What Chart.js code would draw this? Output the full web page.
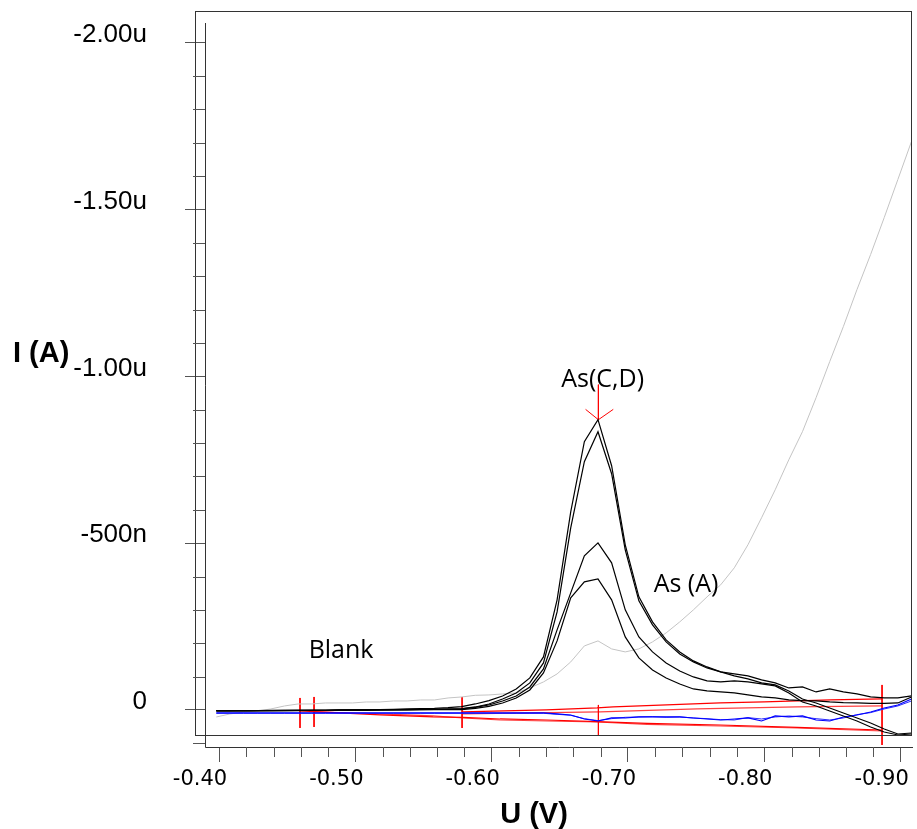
<!DOCTYPE html>
<html>
<head>
<meta charset="utf-8">
<script src="https://cdn.jsdelivr.net/npm/chart.js@4.4.0/dist/chart.umd.min.js"></script>
<style>
  html, body { margin: 0; padding: 0; background: #fff; }
  #wrap { width: 917px; height: 829px; }
</style>
</head>
<body>
<div id="wrap"><canvas id="chart"></canvas></div>
<script>
// potential of every recorded point (V)
const potentials = [
  -0.398, -0.408, -0.418, -0.428, -0.438, -0.448, -0.458, -0.468, -0.478, -0.488,
  -0.498, -0.508, -0.518, -0.528, -0.538, -0.548, -0.558, -0.568, -0.578, -0.588,
  -0.598, -0.608, -0.618, -0.628, -0.638, -0.648, -0.658, -0.668, -0.678, -0.688,
  -0.698, -0.708, -0.718, -0.728, -0.738, -0.748, -0.758, -0.768, -0.778, -0.788,
  -0.798, -0.808, -0.818, -0.828, -0.838, -0.848, -0.858, -0.868, -0.878, -0.888,
  -0.898, -0.908
];

// currents in nA (negative = up)
const sampleC1 = [3, 3, 2, 2, 2, 2, 1, 1, 1, 0, 0, 0, -1, -2, -3,
  -4, -5, -7, -10, -18, -28, -42, -63, -96, -159,
  -330, -594, -804, -870, -732, -495, -339, -264, -210, -174,
  -147, -129, -114, -102, -93, -81, -75, -57, -33, -21,
  -6, 9, 24, 39, 57, 72, 69];
const sampleC2 = [2, 2, 2, 2, 2, 1, 1, 1, 1, 0, 0, 0, 0, -1, -1,
  -2, -2, -3, -4, -9, -18, -33, -51, -81, -141,
  -294, -546, -744, -834, -708, -480, -327, -255, -204, -168,
  -144, -126, -114, -108, -102, -90, -81, -66, -69, -54,
  -63, -54, -48, -39, -36, -36, -42];
const sampleA1 = [2, 2, 2, 2, 1, 1, 1, 1, 1, 1, 0, 0, 0, 0, -1,
  -1, -2, -2, -3, -8, -15, -27, -42, -69, -123,
  -240, -351, -462, -501, -441, -300, -219, -174, -141, -117,
  -99, -87, -84, -87, -84, -78, -72, -51, -24, -12,
  3, 18, 33, 51, 66, 75, 72];
const sampleA2 = [3, 3, 3, 2, 2, 2, 2, 1, 1, 1, 1, 1, 0, 0, 0,
  -1, -1, -1, -1, -5, -11, -21, -36, -60, -111,
  -207, -336, -384, -393, -330, -219, -156, -120, -96, -78,
  -63, -57, -54, -51, -45, -39, -36, -30, -28, -27,
  -24, -22, -21, -20, -20, -21, -39];
const background = [21, 12, 6, 3, -3, -12, -18, -18, -21, -21, -21, -24, -24, -27, -27,
  -30, -30, -36, -39, -44, -45, -48, -51, -66, -84,
  -108, -144, -192, -207, -183, -174, -183, -204, -231, -264,
  -300, -339, -375, -426, -495, -576, -660, -750, -834, -936,
  -1044, -1149, -1260, -1365, -1476, -1590, -1704];
const blank1 = [9, 9, 9, 9, 9, 9, 9, 9, 9, 9, 9, 9, 9, 9, 9, 9, 9, 9, 9, 9, 9, 9, 9, 9, 9,
  12, 15, 27, 33, 24, 24, 21, 21, 21, 21,
  24, 27, 30, 27, 24, 33, 18, 21, 18, 30,
  33, 21, 15, 6, -6, -15, -33];
const blank2 = [10, 10, 10, 10, 10, 10, 10, 10, 10, 10, 10, 10, 10, 10, 10, 10, 10, 10, 10, 10, 10, 10, 10, 10, 10,
  13, 16, 26, 32, 26, 22, 21, 20, 22, 21,
  24, 26, 29, 30, 23, 27, 21, 18, 21, 26,
  30, 24, 14, 8, -3, -12, -27];

// baselines (red)
const base1U = [-0.5783, -0.6399, -0.6773, -0.6891, -0.7676, -0.7999, -0.8484, -0.8864];
const base1I = [6, 0, -6, -9, -21, -24, -30, -33];
const base2U = [-0.5783, -0.6795, -0.7507, -0.8241, -0.8864];
const base2I = [12, 6, -3, -9, -12];
const base3U = [-0.4594, -0.5181, -0.5570, -0.5790, -0.6062, -0.6406, -0.6773, -0.7140, -0.7676, -0.8241, -0.8864];
const base3I = [3, 15, 21, 22, 27, 30, 35, 40, 45, 52, 60];
const base4U = [-0.4697, -0.5181, -0.5570, -0.5790, -0.6062, -0.6406, -0.6773, -0.7140, -0.7676, -0.8241, -0.8864];
const base4I = [6, 12, 18, 24, 30, 33, 36, 43, 48, 54, 63];

// baseline limit markers and peak marker
const markerU = [-0.4594, -0.4697, -0.5783, -0.6783, -0.8864];
const markerTop = [-36, -39, -39, -15, -75];
const markerBottom = [54, 51, 54, 75, 105];
const arrowU = [-0.6689, -0.6783, -0.6892];
const arrowI = [-901, -870, -901];
const arrowShaftI = [-975, -870];

// text labels inside the plot
const noteTexts = ['As(C,D)', 'As (A)', 'Blank'];
const noteU = [-0.6814, -0.7426, -0.4895];
const noteI = [-989, -375, -177];

// ticks
const majorI = [-2000, -1500, -1000, -500, 0];
const minorU = [-0.42, -0.44, -0.46, -0.48, -0.52, -0.54, -0.56, -0.58, -0.62, -0.64,
  -0.66, -0.68, -0.72, -0.74, -0.76, -0.78, -0.82, -0.84, -0.86, -0.88];
const minorI = [-1900, -1800, -1700, -1600, -1400, -1300, -1200, -1100, -900, -800,
  -700, -600, -400, -300, -200, -100, 100];

function pts(us, is) {
    return us.map((u, i) => ({ x: u, y: is[i] }));
}

function curve(values, color, width) {
    return { data: pts(potentials, values), borderColor: color, borderWidth: width };
}

function fmtCurrent(v) {
    if (v === 0) return '0';
    if (Math.abs(v) < 1000) return v + 'n';
    return (v / 1000).toFixed(2) + 'u';
}

const RED = '#ff0000';

const datasets = [
    curve(sampleC1, '#000000', 1.2),
    curve(sampleC2, '#000000', 1.2),
    curve(sampleA1, '#000000', 1.2),
    curve(sampleA2, '#000000', 1.2),
    curve(blank1, '#0000ff', 1.2),
    curve(blank2, '#2a2aff', 1),
    { data: pts(base1U, base1I), borderColor: RED, borderWidth: 1.2 },
    { data: pts(base2U, base2I), borderColor: 'rgba(255,0,0,0.75)', borderWidth: 1.2 },
    { data: pts(base3U, base3I), borderColor: RED, borderWidth: 1.2 },
    { data: pts(base4U, base4I), borderColor: 'rgba(255,0,0,0.75)', borderWidth: 1.2 },
    curve(background, '#c4c4c4', 1)
];

markerU.forEach((u, i) => {
    datasets.push({ data: pts([u, u], [markerTop[i], markerBottom[i]]), borderColor: RED, borderWidth: 1 });
});
datasets.push({ data: pts(arrowU, arrowI), borderColor: RED, borderWidth: 1 });
datasets.push({ data: pts([arrowU[1], arrowU[1]], arrowShaftI), borderColor: RED, borderWidth: 1 });

const decorations = {
    id: 'decorations',
    afterDraw(chart) {
        const { ctx, chartArea: a, scales: { x, y } } = chart;
        ctx.save();
        ctx.lineWidth = 1;
        ctx.strokeStyle = '#333';
        // outer frame and inner axis lines
        ctx.strokeRect(a.left - 9.5, a.top + 0.5, a.right - a.left + 8, a.bottom - a.top - 12);
        ctx.beginPath();
        ctx.moveTo(a.left + 0.5, a.top + 12);
        ctx.lineTo(a.left + 0.5, a.bottom + 0.5);
        ctx.lineTo(a.right, a.bottom + 0.5);
        ctx.stroke();

        // minor ticks
        ctx.strokeStyle = '#555';
        ctx.beginPath();
        minorI.forEach(v => {
            const p = Math.round(y.getPixelForValue(v)) + 0.5;
            ctx.moveTo(a.left - 12, p);
            ctx.lineTo(a.left, p);
        });
        minorU.forEach(v => {
            const p = Math.round(x.getPixelForValue(v)) + 0.5;
            ctx.moveTo(p, a.bottom);
            ctx.lineTo(p, a.bottom + 10);
        });
        ctx.stroke();

        // notes
        ctx.fillStyle = '#000';
        ctx.font = '25px "Open Sans"';
        ctx.textAlign = 'center';
        ctx.textBaseline = 'middle';
        noteTexts.forEach((t, i) => {
            ctx.fillText(t, x.getPixelForValue(noteU[i]), y.getPixelForValue(noteI[i]));
        });

        // axis titles
        ctx.font = 'bold 29px "Liberation Sans"';
        ctx.textBaseline = 'alphabetic';
        ctx.textAlign = 'left';
        ctx.fillText('I (A)', 13, 362);
        ctx.textAlign = 'center';
        ctx.fillText('U (V)', 534, 823);
        ctx.restore();
    }
};

new Chart(document.getElementById('chart'), {
    type: 'line',
    data: { datasets: datasets },
    options: {
        responsive: true,
        maintainAspectRatio: false,
        devicePixelRatio: 1,
        animation: false,
        events: [],
        layout: { padding: { top: 11, right: 4, left: 0, bottom: 0 } },
        elements: {
            point: { radius: 0 },
            line: { tension: 0, fill: false }
        },
        plugins: {
            legend: { display: false },
            tooltip: { enabled: false }
        },
        scales: {
            x: {
                type: 'linear',
                reverse: true,
                min: -0.9091,
                max: -0.3897,
                border: { display: false },
                grid: { drawOnChartArea: false, tickLength: 15, tickColor: '#555' },
                ticks: {
                    stepSize: 0.1,
                    includeBounds: false,
                    maxRotation: 0,
                    autoSkip: false,
                    labelOffset: -19,
                    padding: 5,
                    color: '#000',
                    font: { family: 'DejaVu Sans', size: 21 },
                    callback: v => v.toFixed(2)
                },
                afterFit(s) {
                    s.height = 82;
                    s.paddingLeft = 0;
                    s.paddingRight = 0;
                }
            },
            y: {
                type: 'linear',
                reverse: true,
                min: -2095,
                max: 111,
                border: { display: false },
                grid: { drawOnChartArea: false, tickLength: 20, tickColor: '#555' },
                ticks: {
                    autoSkip: false,
                    labelOffset: -8,
                    padding: 38,
                    color: '#000',
                    font: { family: 'Liberation Sans', size: 26 },
                    callback: fmtCurrent
                },
                afterBuildTicks(s) {
                    s.ticks = majorI.map(v => ({ value: v }));
                },
                afterFit(s) {
                    s.width = 205;
                    s.paddingTop = 0;
                    s.paddingBottom = 0;
                }
            }
        }
    },
    plugins: [decorations]
});
</script>
</body>
</html>
